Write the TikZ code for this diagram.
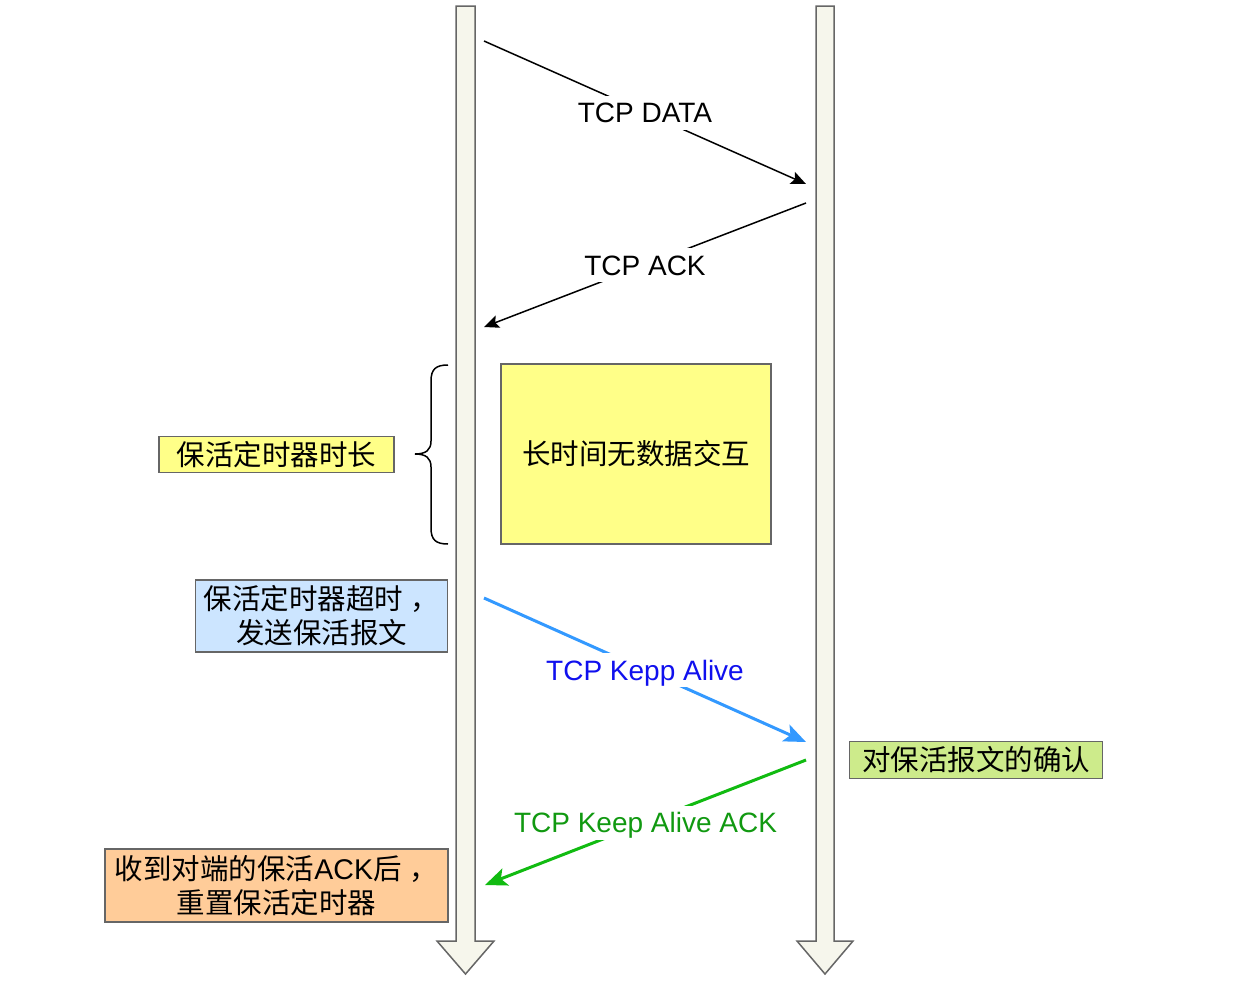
\documentclass[tikz,border=0pt]{standalone}
\usepackage{fontspec}
\setmainfont{Liberation Sans}
\newfontfamily\cjk{Noto Sans CJK SC}
\usetikzlibrary{arrows.meta}
\definecolor{lifefill}{HTML}{F6F6EC}
\definecolor{edgegray}{HTML}{666666}
\definecolor{yellowfill}{HTML}{FFFF88}
\definecolor{bluefill}{HTML}{CCE5FF}
\definecolor{greenfill}{HTML}{CDEB8B}
\definecolor{orangefill}{HTML}{FFCC99}
\definecolor{kaline}{HTML}{3399FF}
\definecolor{katext}{HTML}{1010EE}
\definecolor{ackline}{HTML}{11BB11}
\definecolor{acktext}{HTML}{119911}
\begin{document}
\begin{tikzpicture}[x=1pt,y=-1pt,
  lifeline/.style={draw=edgegray,fill=lifefill,line width=1.5pt,line join=miter},
  msg/.style={draw=black,line width=1.5pt,-{Stealth[length=15pt,width=13pt,inset=3pt]}},
  kamsg/.style={draw=kaline,line width=3pt,-{Stealth[length=22pt,width=18pt,inset=5pt]}},
  ackmsg/.style={draw=ackline,line width=3pt,-{Stealth[length=22pt,width=18pt,inset=5pt]}},
  lbl/.style={fill=white,inner xsep=1pt,inner ysep=7pt,text height=20pt,text depth=0pt,
    font=\fontsize{28}{32}\selectfont},
  box/.style={draw=edgegray,line width=1.5pt,align=center,inner sep=0pt,
    font=\cjk\fontsize{28.5}{34}\selectfont},
  bracestyle/.style={draw=black,line width=1.5pt}
]
\useasboundingbox (0,0) rectangle (1260,980);
% lifelines
\path[lifeline] (456,6) -- (475,6) -- (475,941) -- (494,941) -- (465.5,974) -- (437,941) -- (456,941) -- cycle;
\path[lifeline] (816,6) -- (834,6) -- (834,941) -- (853,941) -- (825,974) -- (797,941) -- (816,941) -- cycle;
% message end points
\coordinate (a1) at (484,41);  \coordinate (a2) at (806,184);
\coordinate (b1) at (806,203); \coordinate (b2) at (484,327);
\coordinate (c1) at (484,598); \coordinate (c2) at (806,742);
\coordinate (e1) at (806,760); \coordinate (e2) at (485,885);
% messages
\draw[msg] (a1) -- node[lbl]{TCP DATA} (a2);
\draw[msg] (b1) -- node[lbl]{TCP ACK} (b2);
\draw[kamsg] (c1) -- node[lbl,text=katext]{TCP Kepp Alive} (c2);
\draw[ackmsg] (e1) -- node[lbl,text=acktext]{TCP Keep Alive ACK} (e2);
% boxes
\node[box,fill=yellowfill,minimum width=270pt,minimum height=180pt] (idle) at (636,454) {长时间无数据交互};
\node[box,fill=yellowfill,minimum width=235pt,minimum height=36pt] (dur) at (276.5,454.5) {保活定时器时长};
\node[box,fill=bluefill,minimum width=252pt,minimum height=72pt] (tout) at (321.5,616) {保活定时器超时\kern8pt，\\发送保活报文};
\node[box,fill=greenfill,minimum width=253pt,minimum height=37pt] (conf) at (976,760) {对保活报文的确认};
\node[box,fill=orangefill,minimum width=343pt,minimum height=73pt] (reset) at (276.5,885.5) {收到对端的保活{\fontspec{Liberation Sans}ACK}后\kern8pt，\\重置保活定时器};
% brace
\draw[bracestyle] (448,365) .. controls (436,365) and (431,369) .. (431,381) -- (431,441)
  .. controls (431,450) and (426,454) .. (415,454)
  .. controls (426,454) and (431,458) .. (431,467) -- (431,528)
  .. controls (431,540) and (436,544) .. (448,544);
\end{tikzpicture}
\end{document}
